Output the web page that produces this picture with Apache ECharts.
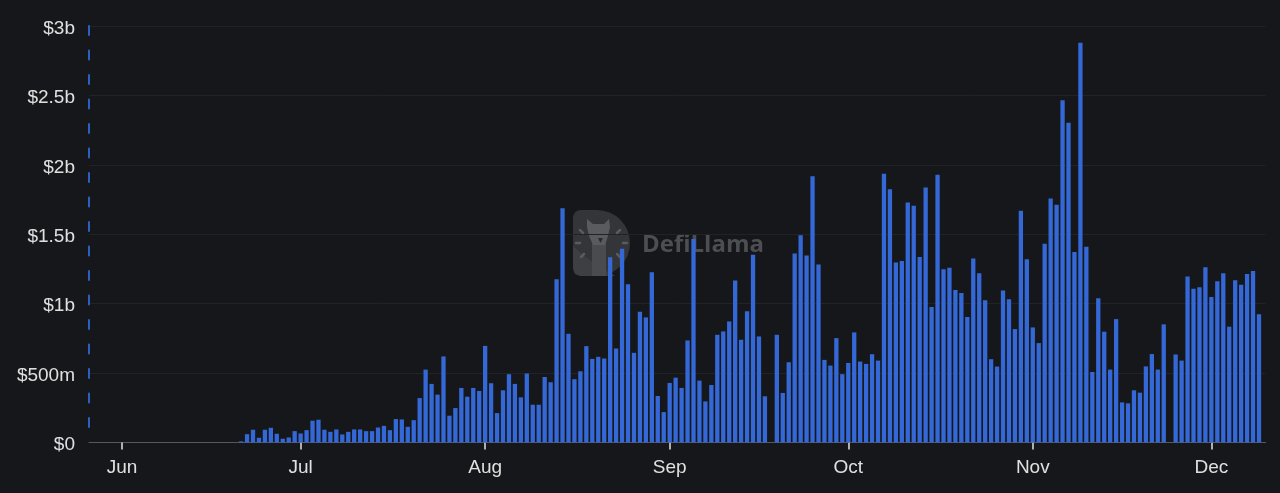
<!DOCTYPE html>
<html>
<head>
<meta charset="utf-8">
<title>Daily Volume</title>
<script src="https://cdn.jsdelivr.net/npm/echarts@6/dist/echarts.min.js"></script>
<style>
  html, body { margin: 0; padding: 0; background: #16171a; }
  #chart { width: 1280px; height: 493px; }
</style>
</head>
<body>
<div id="chart"></div>
<script>
// Daily volume in $ millions, one value per day starting on firstDay
const firstDay = '2024-06-21';
const dailyVolume = [
  // Jun 21 - Jun 30
  8, 60, 92, 34, 92, 106, 63, 27, 36, 82,
  // Jul
  65, 89, 157, 164, 92, 77, 94, 58, 77, 94, 94, 82, 82, 108, 120, 89,
  169, 166, 113, 161, 320, 525, 422, 345, 620, 193, 248, 393, 330, 393, 371,
  // Aug
  696, 427, 212, 376, 492, 422, 325, 497, 272, 272, 472, 434, 1176, 1687, 783,
  456, 513, 694, 602, 617, 605, 1335, 677, 1395, 1140, 646, 942, 901, 1227, 335, 219,
  // Sep
  429, 467, 393, 735, 1465, 446, 296, 414, 776, 800, 872, 1166, 740, 945, 1352,
  764, 333, 0, 776, 357, 578, 1361, 1492, 1347, 1918, 1282, 595, 554, 752, 492,
  // Oct
  573, 793, 583, 566, 636, 590, 1935, 1824, 1296, 1308, 1728, 1706, 1337, 1836, 976,
  1928, 1248, 1258, 1099, 1077, 904, 1325, 1219, 1024, 600, 547, 1094, 1031, 817, 1670, 1320,
  // Nov
  829, 716, 1432, 1757, 1713, 2465, 2304, 1373, 2880, 1410, 508, 1039, 798, 525, 889,
  289, 282, 376, 359, 548, 637, 525, 851, 0, 634, 590, 1195, 1108, 1118, 1263,
  // Dec 1 - Dec 9
  1048, 1161, 1219, 834, 1169, 1137, 1214, 1236, 923
];

const monthTicks = ['2024-06-01', '2024-07-01', '2024-08-01', '2024-09-01', '2024-10-01', '2024-11-01', '2024-12-01'];
const monthLabels = ['Jun', 'Jul', 'Aug', 'Sep', 'Oct', 'Nov', 'Dec'];

const yTickValues = [0, 500, 1000, 1500, 2000, 2500, 3000];
const yTickLabels = ['$0', '$500m', '$1b', '$1.5b', '$2b', '$2.5b', '$3b'];

const DAY = 86400000;
function ts(str, addDays) {
  const [y, m, d] = str.split('-').map(Number);
  return new Date(y, m - 1, d + (addDays || 0)).getTime();
}

const seriesData = dailyVolume.map((v, i) => [ts(firstDay, i), v]);
const monthTickTimes = monthTicks.map(s => ts(s));

const chart = echarts.init(document.getElementById('chart'), null, { renderer: 'canvas' });

const labelFont = { color: '#e0e0e0', fontSize: 19, fontFamily: 'Liberation Sans, Arial, sans-serif' };

chart.setOption({
  backgroundColor: '#16171a',
  animation: false,
  grid: { left: 89, right: 14.4, top: 26, bottom: 50.5, containLabel: false },
  xAxis: {
    type: 'time',
    min: ts('2024-05-26') + 0.81 * DAY,
    max: ts('2024-12-09') + 0.75 * DAY,
    splitNumber: 7,
    minInterval: 28 * DAY,
    maxInterval: 31 * DAY,
    axisLine: { show: true, lineStyle: { color: '#55585d', width: 1 } },
    axisTick: { show: true, length: 7, inside: false, lineStyle: { color: '#e4e4e4', width: 1.5 } },
    axisLabel: Object.assign({
      margin: 16,
      showMinLabel: false,
      showMaxLabel: false,
      formatter: function (value) {
        const idx = monthTickTimes.findIndex(t => Math.abs(t - value) < DAY / 2);
        return idx >= 0 ? monthLabels[idx] : '';
      }
    }, labelFont),
    splitLine: { show: false },
    minorTick: { show: false }
  },
  yAxis: {
    type: 'value',
    min: 0,
    max: 3000,
    interval: 500,
    axisLine: {
      show: true,
      onZero: false,
      lineStyle: { color: '#3068d2', width: 1.8, type: [9, 15.5], dashOffset: 9 }
    },
    axisTick: { show: false },
    axisLabel: Object.assign({
      margin: 14,
      formatter: function (value) {
        const idx = yTickValues.indexOf(value);
        return idx >= 0 ? '{v|' + yTickLabels[idx] + '}' : '';
      },
      rich: {
        v: Object.assign({ padding: [5, 0, 0, 0] }, labelFont)
      }
    }, labelFont),
    splitLine: { show: true, lineStyle: { color: '#212327', width: 1 } }
  },
  graphic: [
    {
      // DefiLlama watermark logo
      type: 'group',
      left: 573,
      top: 210,
      z: 0,
      silent: true,
      children: [
        { type: 'rect', shape: { x: 0, y: 0, width: 25, height: 66, r: [8, 0, 0, 8] }, style: { fill: '#343538' } },
        { type: 'sector', shape: { cx: 24, cy: 33, r0: 0, r: 33, startAngle: -Math.PI / 2, endAngle: Math.PI / 2, clockwise: true }, style: { fill: '#343538' } },
        { type: 'polygon', shape: { points: [[0, 36], [0, 58], [2, 64], [8, 66], [42, 66], [32, 60], [21, 53], [10, 45]] }, style: { fill: '#3e3f42' } },
        { type: 'rect', shape: { x: 19, y: 32, width: 14, height: 34 }, style: { fill: '#4a4b4e' } },
        { type: 'polygon', shape: { points: [[14, 9], [20, 14], [31, 14], [36, 9], [37, 17], [35, 26], [32, 35], [20, 35], [16, 26], [14, 17]] }, style: { fill: '#5a5b5e' } },
        { type: 'polygon', shape: { points: [[25, 28], [30, 28], [27.5, 33]] }, style: { fill: '#2a2b2e' } },
        { type: 'line', shape: { x1: 3, y1: 33, x2: 7, y2: 33 }, style: { stroke: '#5a5b5e', lineWidth: 2.5, lineCap: 'round' } },
        { type: 'line', shape: { x1: 7, y1: 20, x2: 10, y2: 23 }, style: { stroke: '#5a5b5e', lineWidth: 2.5, lineCap: 'round' } },
        { type: 'line', shape: { x1: 8, y1: 47, x2: 11, y2: 44 }, style: { stroke: '#5a5b5e', lineWidth: 2.5, lineCap: 'round' } },
        { type: 'line', shape: { x1: 44, y1: 23, x2: 47, y2: 20 }, style: { stroke: '#5a5b5e', lineWidth: 2.5, lineCap: 'round' } },
        { type: 'line', shape: { x1: 50, y1: 33, x2: 54, y2: 33 }, style: { stroke: '#5a5b5e', lineWidth: 2.5, lineCap: 'round' } },
        { type: 'line', shape: { x1: 44, y1: 44, x2: 47, y2: 47 }, style: { stroke: '#5a5b5e', lineWidth: 2.5, lineCap: 'round' } }
      ]
    },
    {
      type: 'text',
      left: 642,
      top: 233,
      z: 0,
      silent: true,
      style: {
        text: 'DefiLlama',
        fontSize: 24,
        fontWeight: 'bold',
        fontFamily: 'Open Sans, Noto Sans, sans-serif',
        fill: '#4d4e51'
      }
    }
  ],
  series: [
    {
      type: 'bar',
      name: 'Volume',
      data: seriesData,
      barWidth: 4.3,
      itemStyle: { color: '#3468d6' },
      z: 2
    }
  ]
});
</script>
</body>
</html>
